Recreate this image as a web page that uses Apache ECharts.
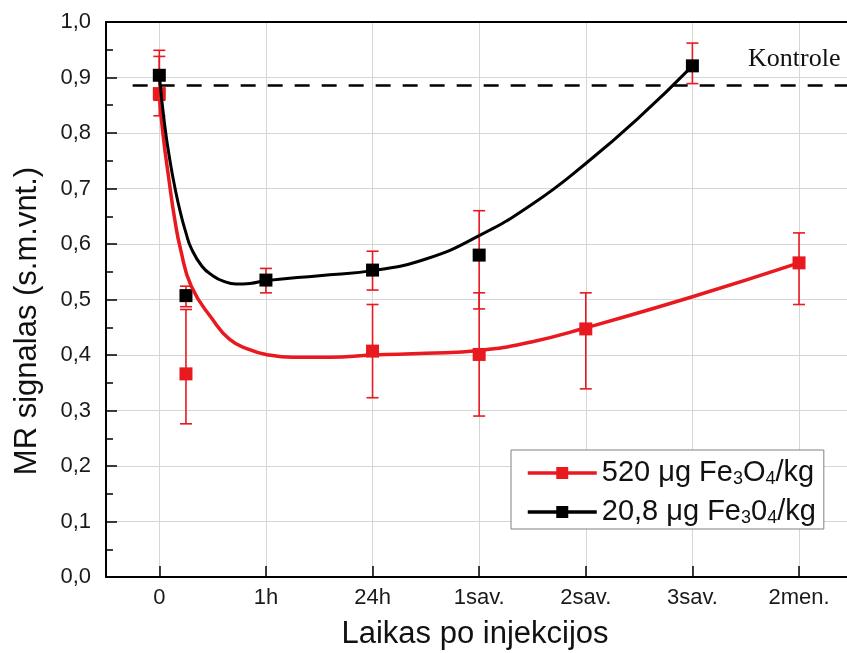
<!DOCTYPE html>
<html>
<head>
<meta charset="utf-8">
<script src="https://cdn.jsdelivr.net/npm/echarts@6/dist/echarts.min.js"></script>
<style>html,body{margin:0;padding:0;background:#fff}#c{width:847px;height:653px}</style>
</head>
<body>
<div id="c"></div>
<script>
// Category tick labels along x (placed at integer positions 0..6)
const categories = ['0', '1h', '24h', '1sav.', '2sav.', '3sav.', '2men.'];
const tickPositions = [0, 1, 2, 3, 4, 5, 6];

// 520 ug Fe3O4/kg (red) measured points
const redPointsX = [0, 0.25, 2, 3, 4, 6];
const redPointsY = [0.871, 0.366, 0.407, 0.401, 0.447, 0.566];
const redErrLow  = [0.831, 0.276, 0.323, 0.290, 0.339, 0.491];
const redErrHigh = [0.938, 0.482, 0.491, 0.512, 0.512, 0.620];

// 20,8 ug Fe3O4/kg (black) measured points
const blackPointsX = [0, 0.25, 1, 2, 3, 5];
const blackPointsY = [0.904, 0.507, 0.535, 0.553, 0.580, 0.921];
const blackErrLow  = [0.859, 0.487, 0.512, 0.517, 0.483, 0.889];
const blackErrHigh = [0.949, 0.524, 0.556, 0.587, 0.660, 0.962];

// Fitted curves
const redFitX = [0, 0.033, 0.094, 0.145, 0.2, 0.3, 0.5, 0.66, 0.84, 1.0, 1.25, 1.6, 2.0, 2.5, 3.0, 3.5, 4.0, 5.0, 6.0];
const redFitY = [0.87, 0.80, 0.711, 0.644, 0.59, 0.524, 0.464, 0.428, 0.41, 0.401, 0.396, 0.396, 0.400, 0.403, 0.408, 0.424, 0.449, 0.505, 0.566];
const blackFitX = [0, 0.05, 0.1, 0.15, 0.2, 0.25, 0.3, 0.4, 0.5, 0.6, 0.72, 0.85, 1.0, 1.5, 2.0, 2.5, 3.0, 3.5, 4.0, 4.5, 5.0];
const blackFitY = [0.904, 0.815, 0.75, 0.698, 0.655, 0.62, 0.592, 0.56, 0.543, 0.533, 0.528, 0.529, 0.534, 0.543, 0.552, 0.573, 0.615, 0.672, 0.745, 0.828, 0.921];

// Control level
const controlLevel = 0.886;
const controlSpan = [-0.25, 6.45];

const RED = '#e8191f';
const BLACK = '#000000';
const FONT = 'Liberation Sans';

function zip(xs, ys) { return xs.map((x, i) => [x, ys[i]]); }
function errData(xs, lo, hi) { return xs.map((x, i) => [x, lo[i], hi[i]]); }

function renderErr(params, api) {
  const x = api.value(0);
  const p1 = api.coord([x, api.value(1)]);
  const p2 = api.coord([x, api.value(2)]);
  const hw = 6;
  const st = { stroke: RED, lineWidth: 1.6 };
  return {
    type: 'group',
    children: [
      { type: 'line', shape: { x1: p1[0], y1: p1[1], x2: p2[0], y2: p2[1] }, style: st },
      { type: 'line', shape: { x1: p1[0] - hw, y1: p1[1], x2: p1[0] + hw, y2: p1[1] }, style: st },
      { type: 'line', shape: { x1: p2[0] - hw, y1: p2[1], x2: p2[0] + hw, y2: p2[1] }, style: st }
    ]
  };
}

const legendNames = {
  red: '520 μg Fe{s|3}O{s|4}/kg',
  black: '20,8 μg Fe{s|3}0{s|4}/kg'
};

const chart = echarts.init(document.getElementById('c'), null, { renderer: 'canvas' });
chart.setOption({
  animation: false,
  backgroundColor: '#ffffff',
  grid: { left: 106, top: 22, right: 0, bottom: 76, containLabel: false },
  xAxis: [{
    type: 'value', min: -0.5, max: 6.45,
    axisLine: { show: true, onZero: false, lineStyle: { color: BLACK, width: 2 } },
    axisTick: { show: true, inside: true, length: 11, customValues: tickPositions, lineStyle: { color: BLACK, width: 1.5 } },
    axisLabel: { show: true, customValues: tickPositions, margin: 10, fontFamily: FONT, fontSize: 22, color: '#1a1a1a',
      formatter: v => categories[Math.round(v)] },
    splitLine: { show: true, lineStyle: { color: '#d6d6d6', width: 1 } }
  }, {
    type: 'value', min: -0.5, max: 6.45, position: 'top',
    axisLine: { show: true, onZero: false, lineStyle: { color: BLACK, width: 2 } },
    axisTick: { show: false }, axisLabel: { show: false }, splitLine: { show: false }
  }],
  yAxis: {
    type: 'value', min: 0, max: 1, interval: 0.1,
    axisLine: { show: true, onZero: false, lineStyle: { color: BLACK, width: 2 } },
    axisTick: { show: true, inside: true, length: 11, lineStyle: { color: BLACK, width: 1.5 } },
    minorTick: { show: true, splitNumber: 2, length: 7, lineStyle: { color: BLACK, width: 1.5 } },
    axisLabel: { margin: 15, fontFamily: FONT, fontSize: 22, color: '#1a1a1a',
      formatter: v => v.toFixed(1).replace('.', ',') },
    splitLine: { show: true, lineStyle: { color: '#d6d6d6', width: 1 } }
  },
  legend: {
    orient: 'vertical', left: 511, top: 450,
    padding: [8, 8, 2, 15], itemGap: 9, itemWidth: 69, itemHeight: 15,
    backgroundColor: '#ffffff', borderColor: '#808080', borderWidth: 1, borderRadius: 0,
    data: ['red', 'black'],
    formatter: n => legendNames[n],
    lineStyle: { width: 3.5 },
    textStyle: {
      fontFamily: FONT, fontSize: 29, color: '#111', lineHeight: 30,
      rich: { s: { fontFamily: FONT, fontSize: 18, lineHeight: 17, verticalAlign: 'bottom', color: '#111' } }
    }
  },
  graphic: [
    { type: 'text', left: 748, top: 46, style: { text: 'Kontrole', fontFamily: 'Liberation Serif', fontSize: 26, fill: '#111' } },
    { type: 'text', x: 27, y: 321, rotation: Math.PI / 2,
      style: { text: 'MR signalas (s.m.vnt.)', fontFamily: FONT, fontSize: 31, fill: '#111', align: 'center', verticalAlign: 'middle' } },
    { type: 'text', x: 475, y: 634,
      style: { text: 'Laikas po injekcijos', fontFamily: FONT, fontSize: 31, fill: '#111', align: 'center', verticalAlign: 'middle' } }
  ],
  series: [
    { type: 'custom', name: 'redErr', renderItem: renderErr, data: errData(redPointsX, redErrLow, redErrHigh), z: 1, silent: true,
      encode: { x: 0, y: [1, 2] } },
    { type: 'custom', name: 'blackErr', renderItem: renderErr, data: errData(blackPointsX, blackErrLow, blackErrHigh), z: 1, silent: true,
      encode: { x: 0, y: [1, 2] } },
    { type: 'scatter', name: 'redPts', symbol: 'rect', symbolSize: 13, itemStyle: { color: RED, opacity: 1 }, data: zip(redPointsX, redPointsY), z: 2 },
    { type: 'scatter', name: 'blackPts', symbol: 'rect', symbolSize: 13, itemStyle: { color: BLACK, opacity: 1 }, data: zip(blackPointsX, blackPointsY), z: 2 },
    { type: 'line', name: 'red', data: zip(redFitX, redFitY), smooth: 0.5, symbol: 'rect', symbolSize: 13, showSymbol: false,
      lineStyle: { color: RED, width: 3.5 }, itemStyle: { color: RED }, z: 3,
      markLine: {
        silent: true, symbol: 'none', label: { show: false },
        lineStyle: { color: BLACK, width: 2.5, type: [15, 12] },
        data: [[{ coord: [controlSpan[0], controlLevel] }, { coord: [controlSpan[1], controlLevel] }]]
      } },
    { type: 'line', name: 'black', data: zip(blackFitX, blackFitY), smooth: 0.5, symbol: 'rect', symbolSize: 13, showSymbol: false,
      lineStyle: { color: BLACK, width: 3 }, itemStyle: { color: BLACK }, z: 3 }
  ]
});
</script>
</body>
</html>
